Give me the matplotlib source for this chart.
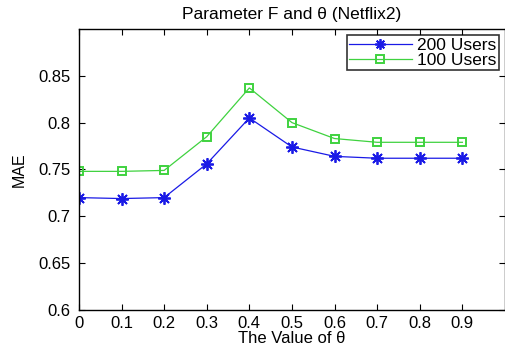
import numpy as np
import matplotlib.pyplot as plt

plt.rcParams['font.family'] = ['Liberation Sans', 'DejaVu Sans']

theta = [0, 0.1, 0.2, 0.3, 0.4, 0.5, 0.6, 0.7, 0.8, 0.9]
mae_200 = [0.720, 0.719, 0.720, 0.756, 0.805, 0.774, 0.764, 0.762, 0.762, 0.762]
mae_100 = [0.748, 0.748, 0.749, 0.785, 0.837, 0.800, 0.783, 0.779, 0.779, 0.779]
xticks = [0, 0.1, 0.2, 0.3, 0.4, 0.5, 0.6, 0.7, 0.8, 0.9]
yticks = [0.6, 0.65, 0.7, 0.75, 0.8, 0.85]

fig = plt.figure(figsize=(5.06, 3.52), dpi=100)
ax = fig.add_axes([0.156, 0.119, 0.842, 0.799])

# matlab-style asterisk and open square markers
ax.plot(theta, mae_200, '-', marker=(8, 2, 0), color='#1a1ae6', lw=0.9, ms=9, mew=1.3, label='200 Users')
ax.plot(theta, mae_100, '-s', color='#3fd23f', lw=0.9, ms=6, mfc='none', mew=1.4, label='100 Users')

ax.set_xlim(0, 1)
ax.set_ylim(0.6, 0.9)
ax.set_xticks(xticks)
ax.set_xticklabels(['0', '0.1', '0.2', '0.3', '0.4', '0.5', '0.6', '0.7', '0.8', '0.9'])
ax.set_yticks(yticks)
ax.set_yticklabels(['0.6', '0.65', '0.7', '0.75', '0.8', '0.85'])
ax.tick_params(direction='in', top=True, right=True, length=4, labelsize=12, width=0.8, pad=4)
ax.tick_params(axis='y', pad=6)
for s in ax.spines.values():
    s.set_linewidth(1.0)

ax.set_title('Parameter F and θ (Netflix2)', fontsize=12.5, pad=7)
ax.set_xlabel('The Value of θ', fontsize=12, labelpad=0)
ax.set_ylabel('MAE', fontsize=11.5, labelpad=8)

leg = ax.legend(loc='upper right', fontsize=12.5, frameon=True, fancybox=False,
                edgecolor='black', borderpad=0.15, handlelength=3.6, handletextpad=0.3,
                labelspacing=0.0, borderaxespad=0.35, markerscale=0.85)
leg.get_frame().set_linewidth(1.2)

fig.savefig('out.png', dpi=100)
